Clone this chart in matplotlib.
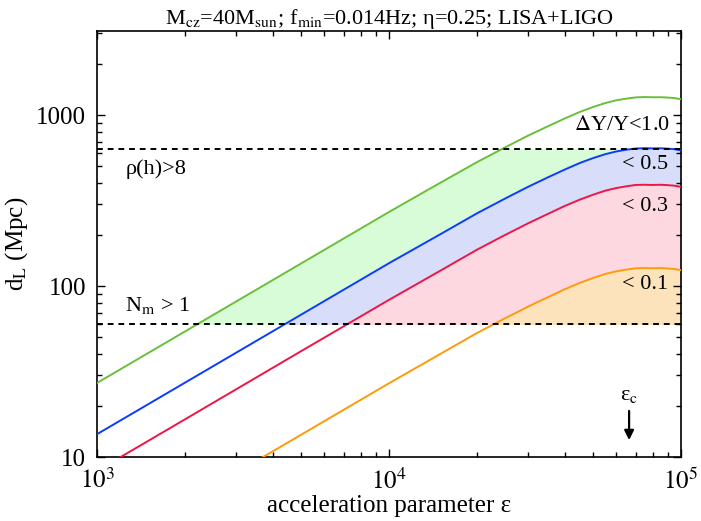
import numpy as np
import matplotlib
matplotlib.use("Agg")
import matplotlib.pyplot as plt
from matplotlib.patches import Rectangle
from matplotlib.ticker import LogLocator, FixedLocator, NullFormatter

plt.rcParams["font.family"] = ["Liberation Serif", "DejaVu Serif"]
plt.rcParams["mathtext.fontset"] = "stix"

# -------------------------------------
# Data
# -------------------------------------

eps = [1e3, 2e3, 5e3, 1e4, 1.5e4, 2e4, 2.5e4, 3e4, 3.5e4, 4e4, 4.5e4, 5e4,
       5.5e4, 6e4, 6.5e4, 7e4, 7.5e4, 8e4, 8.5e4, 9e4, 9.5e4, 1e5]

dl_10 = [27.1, 54.2, 135.5, 271, 402, 530, 647, 759, 859, 955, 1042, 1114,
         1175, 1219, 1247, 1268, 1274, 1270, 1271, 1265, 1256, 1237]
dl_05 = [13.6, 27.2, 68, 136, 201, 266, 325, 381, 432, 480, 524, 560,
         590, 612, 627, 637, 640, 638, 639, 636, 631, 621]
dl_03 = [8.3, 16.6, 41.6, 83, 123, 163, 199, 233, 264, 294, 320, 342,
         361, 374, 383, 390, 391, 390, 391, 389, 386, 380]
dl_01 = [2.7, 5.4, 13.5, 27.0, 40.1, 53.1, 64.8, 75.9, 86.0, 95.8, 104.3, 111.4,
         117.6, 121.8, 124.8, 127, 127.4, 127, 127.4, 126.7, 125.7, 123.8]

snr_limit = 634   # rho(h) > 8
nm_limit = 60     # N_m > 1
eps_c = 6.64e4

# -------------------------------------
# Figure
# -------------------------------------

fig = plt.figure(figsize=(7.01, 5.21), dpi=100)
ax = fig.add_axes([0.1384, 0.1228, 0.8331, 0.8177])

ax.set_xscale("log")
ax.set_yscale("log")
ax.set_xlim(1e3, 1e5)
ax.set_ylim(10, 3100)

band = Rectangle((1e3, nm_limit), 1e5 - 1e3, snr_limit - nm_limit,
                 transform=ax.transData, facecolor="none", edgecolor="none")
ax.add_patch(band)

fills = [
    (dl_05, dl_10, "#d8fbd8"),
    (dl_03, dl_05, "#d8def9"),
    (dl_01, dl_03, "#fdd8e1"),
    ([1.0] * len(eps), dl_01, "#fde3bb"),
]
for lo, hi, col in fills:
    f = ax.fill_between(eps, lo, hi, color=col, lw=0, zorder=1)
    f.set_clip_path(band)

ax.plot(eps, dl_10, color="#6abf3a", lw=1.4, zorder=3)
ax.plot(eps, dl_05, color="#0a3cff", lw=1.4, zorder=3)
ax.plot(eps, dl_03, color="#ee1548", lw=1.4, zorder=3)
ax.plot(eps, dl_01, color="#ff9a0a", lw=1.4, zorder=3)

ax.axhline(snr_limit, color="black", lw=1.4, ls=(0, (3, 2.5)), zorder=4)
ax.axhline(nm_limit, color="black", lw=1.4, ls=(0, (3, 2.5)), zorder=4)

fs = 16
ax.text(91500, 870, r"$\Delta$Y/Y<1.0", ha="right", va="center", fontsize=fs)
ax.text(90100, 514, "< 0.5", ha="right", va="center", fontsize=fs)
ax.text(90100, 292, "< 0.3", ha="right", va="center", fontsize=fs)
ax.text(90100, 102, "< 0.1", ha="right", va="center", fontsize=fs)
ax.text(1250, 480, "ρ(h)>8", ha="left", va="center", fontsize=fs)
ax.text(1250, 77, r"N$_{\rm m}$ > 1", ha="left", va="center", fontsize=fs)

ax.annotate("", xy=(eps_c, 12.1), xytext=(eps_c, 19.3),
            arrowprops=dict(arrowstyle="-|>", color="black", lw=1.6,
                            mutation_scale=14))
ax.text(eps_c, 23, r"ε$_{\rm c}$", ha="center", va="center", fontsize=fs)

ax.set_title(r"M$_{\rm cz}$=40M$_{\rm sun}$; f$_{\rm min}$=0.014Hz; η=0.25; LISA+LIGO",
             fontsize=16, pad=5)
ax.set_xlabel("acceleration parameter ε", fontsize=18, labelpad=1)
ax.set_ylabel(r"d$_{\rm L}$ (Mpc)", fontsize=18, labelpad=4)

ax.xaxis.set_major_locator(FixedLocator([1e3, 1e4, 1e5]))
ax.set_xticklabels([r"$10^{3}$", r"$10^{4}$", r"$10^{5}$"])
ax.yaxis.set_major_locator(FixedLocator([10, 100, 1000]))
ax.set_yticklabels(["10", "100", "1000"])
ax.xaxis.set_minor_locator(LogLocator(base=10, subs=np.arange(2, 10)))
ax.yaxis.set_minor_locator(LogLocator(base=10, subs=np.arange(2, 10)))
ax.xaxis.set_minor_formatter(NullFormatter())
ax.yaxis.set_minor_formatter(NullFormatter())

ax.tick_params(which="both", direction="in", top=True, right=True,
               labelsize=18, width=1.0)
ax.tick_params(which="major", length=6, pad=8)
ax.tick_params(which="minor", length=3.5)
for s in ax.spines.values():
    s.set_linewidth(1.2)

plt.savefig("out.png", dpi=100)
